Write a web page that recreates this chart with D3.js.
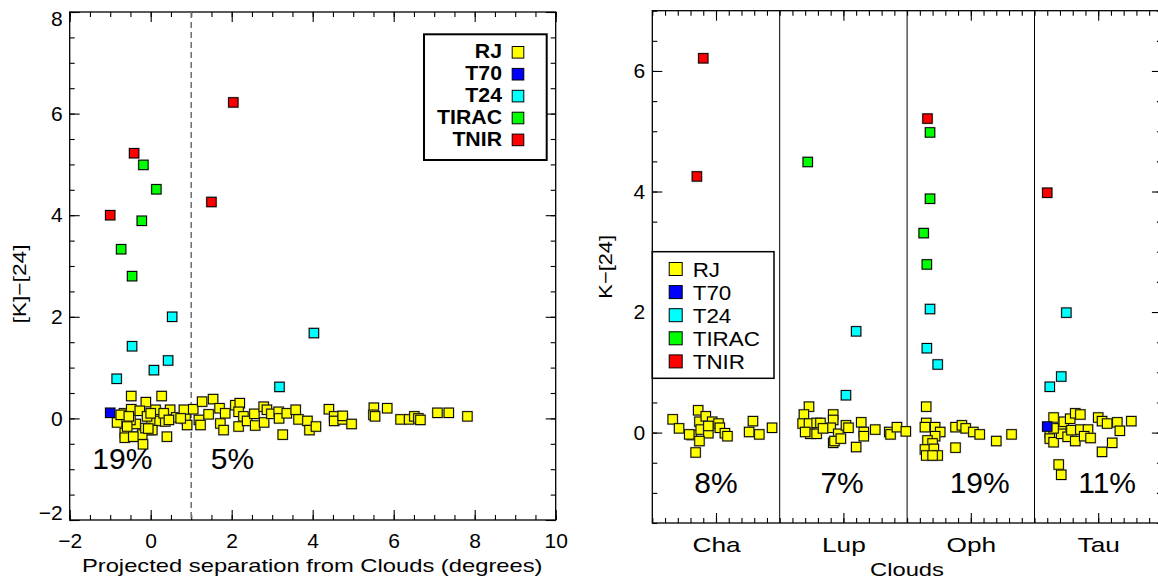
<!DOCTYPE html>
<html>
<head>
<meta charset="utf-8">
<script src="https://cdn.jsdelivr.net/npm/d3@7"></script>
<style>
body { margin: 0; background: #fff; }
text { font-family: "Liberation Sans", Arial, Helvetica, sans-serif; }
</style>
</head>
<body>
<div id="chart"></div>
<script>
// classes and colours
var classes = ["RJ", "T70", "T24", "TIRAC", "TNIR"];
var classColors = ["#ffff00", "#0000ff", "#00ffff", "#00ff00", "#ff0000"];

// left panel: [separation (deg), K-[24]]
var sepRJ = [[-0.48,0.44],[0.27,0.44],[-0.12,0.32],[-0.66,0.10],[-0.48,0.18],[-0.27,0.15],[-0.83,-0.08],
  [-0.37,-0.11],[-0.64,-0.29],[-0.42,-0.36],[-0.64,-0.38],[-0.19,-0.51],[-0.03,-0.23],[0.02,-0.07],
  [0.17,0.10],[0.22,-0.05],[0.36,-0.06],[0.40,-0.36],[0.48,0.17],[0.63,0.02],[0.82,0.17],[0.86,-0.01],
  [0.90,-0.13],[-0.74,0.07],[-0.50,-0.03],[-0.54,0.04],[-0.09,0.04],[0.12,0.17],[-0.58,-0.16],
  [-0.21,-0.32],[0.00,0.10],[0.32,0.10],[0.74,0.00],[0.04,-0.23],[0.45,-0.03],[-0.13,-0.19],
  [-0.06,-0.20],[-0.43,-0.36],
  [1.05,0.18],[1.27,0.33],[1.54,0.38],[1.19,-0.03],[1.43,0.08],[1.23,-0.13],[1.70,0.20],[1.72,-0.10],
  [1.80,-0.23],[1.84,0.10],[2.09,0.26],[2.20,0.30],[2.17,0.13],[2.29,0.04],[2.17,-0.16],[2.38,-0.05],
  [2.56,0.09],[2.58,-0.14],[2.79,0.23],[2.87,0.17],[2.80,-0.08],[2.98,0.09],[3.16,0.13],[3.17,0.00],
  [3.26,-0.32],[3.36,0.10],[3.58,0.17],[3.65,-0.02],[3.87,-0.05],[3.92,-0.23],[4.08,-0.16],[4.40,0.18],
  [4.53,0.04],[4.53,-0.05],[4.74,-0.02],[4.74,0.05],[4.96,-0.11],[5.51,0.21],[5.50,0.07],[5.54,0.04],
  [5.84,0.20],[6.17,-0.02],[6.38,-0.02],[6.51,0.04],[6.61,0.00],[6.66,-0.03],[7.08,0.11],[7.36,0.11],
  [7.82,0.04]];
var sepT70 = [[-1.00,0.11]];
var sepT24 = [[0.53,2.00],[-0.46,1.42],[0.43,1.14],[0.08,0.95],[-0.84,0.78],[3.18,0.62],[4.03,1.68]];
var sepTIRAC = [[-0.18,4.99],[0.14,4.51],[-0.22,3.89],[-0.73,3.33],[-0.46,2.80]];
var sepTNIR = [[2.04,6.22],[-0.41,5.22],[1.50,4.26],[-1.00,4.00]];
var sidePct = ["19%", "5%"];
var sidePctX = [-0.70, 2.02];

// right panel: [cloud position (cell units), K-[24]]
var clouds = ["Cha", "Lup", "Oph", "Tau"];
var cloudPct = ["8%", "7%", "19%", "11%"];
var cloudPctX = [0.50, 1.49, 2.57, 3.57];
var cloudRJ = [[0.16,0.22],[0.21,0.07],[0.36,0.37],[0.37,0.18],[0.42,0.27],[0.47,0.18],[0.52,0.15],
  [0.31,-0.04],[0.38,0.05],[0.44,-0.01],[0.37,-0.14],[0.34,-0.33],[0.44,0.11],[0.53,0.08],[0.57,-0.01],
  [0.59,-0.06],[0.76,0.01],[0.79,0.19],[0.84,-0.03],[0.94,0.08],[0.29,-0.03],
  [1.23,0.43],[1.19,0.30],[1.18,0.15],[1.23,0.15],[1.29,0.16],[1.32,0.16],[1.24,-0.02],[1.29,-0.02],
  [1.20,0.01],[1.42,0.30],[1.42,0.21],[1.40,0.08],[1.46,-0.02],[1.42,-0.17],[1.43,-0.14],[1.48,-0.10],
  [1.52,0.12],[1.54,0.08],[1.60,-0.24],[1.64,0.17],[1.66,0.01],[1.66,-0.06],[1.75,0.05],[1.86,0.01],
  [1.87,-0.03],[1.92,0.09],[1.99,0.02],[1.34,0.07],
  [2.15,0.43],[2.15,0.16],[2.14,0.09],[2.22,0.09],[2.26,0.01],[2.22,-0.06],[2.16,-0.13],[2.20,-0.18],
  [2.14,-0.28],[2.15,-0.38],[2.21,-0.27],[2.24,-0.38],[2.20,-0.38],[2.38,0.09],[2.43,0.12],[2.46,0.07],
  [2.52,0.01],[2.57,-0.03],[2.38,-0.25],[2.70,-0.14],[2.82,-0.03],
  [3.15,0.25],[3.12,-0.01],[3.12,-0.10],[3.15,-0.16],[3.21,0.07],[3.21,-0.02],[3.23,0.18],[3.26,-0.07],
  [3.28,0.23],[3.32,0.32],[3.36,0.30],[3.29,0.04],[3.36,0.05],[3.32,-0.14],[3.42,0.05],[3.39,-0.06],
  [3.44,-0.09],[3.50,0.25],[3.53,0.19],[3.57,0.15],[3.65,0.17],[3.67,0.03],[3.61,-0.17],[3.53,-0.32],
  [3.76,0.19],[3.19,-0.53],[3.21,-0.70],[3.15,0.07]];
var cloudT70 = [[3.10,0.10]];
var cloudT24 = [[1.60,1.68],[1.52,0.62],[2.18,2.05],[2.155,1.40],[2.24,1.13],[3.25,1.99],[3.21,0.93],[3.12,0.76]];
var cloudTIRAC = [[1.22,4.49],[2.18,4.98],[2.18,3.88],[2.13,3.31],[2.155,2.79]];
var cloudTNIR = [[0.40,6.21],[0.35,4.25],[2.16,5.21],[3.10,3.98]];

// ticks
var leftXTicks = [-2, 0, 2, 4, 6, 8, 10];
var leftYTicks = [-2, 0, 2, 4, 6, 8];
var rightYTicks = [0, 2, 4, 6];
var cloudTicks = [0.5, 1.5, 2.5, 3.5];

var width = 1158, height = 583;
var svg = d3.select("#chart").append("svg")
  .attr("width", width).attr("height", height);

var xL = d3.scaleLinear().domain([-2, 10]).range([69.7, 555.7]);
var yL = d3.scaleLinear().domain([-2, 8]).range([520, 12]);
var xR = d3.scaleLinear().domain([0, 4]).range([652.3, 1161.9]);
var yR = d3.scaleLinear().domain([-1.5, 7]).range([523, 10.7]);

function styleAxis(g, fs) {
  g.select(".domain").remove();
  g.selectAll(".tick line").attr("stroke", "#000").attr("stroke-width", 1.1);
  g.selectAll("text").attr("fill", "#000").style("font-size", fs + "px")
    .style("font-family", "'Liberation Sans', Arial, sans-serif");
}

// box axes, ticks pointing inward on all four sides
function frameAxes(x, y, xMajor, xMinor, yMajor, yMinor, xFmt, yFmt, xPad) {
  var xr = x.range(), yr = y.range();
  var sets = [
    [d3.axisBottom(x), yr[0]], [d3.axisTop(x), yr[1]]
  ];
  sets.forEach(function(s) {
    svg.append("g").attr("transform", "translate(0," + s[1] + ")")
      .call(s[0].tickValues(xMinor).tickSize(-5).tickFormat(""))
      .call(styleAxis, 21);
  });
  var xAx = svg.append("g").attr("transform", "translate(0," + yr[0] + ")")
    .call(d3.axisBottom(x).tickValues(xMajor).tickSize(-10).tickPadding(xPad).tickFormat(xFmt))
    .call(styleAxis, 21);
  svg.append("g").attr("transform", "translate(0," + yr[1] + ")")
    .call(d3.axisTop(x).tickValues(xMajor).tickSize(-10).tickFormat(""))
    .call(styleAxis, 21);

  svg.append("g").attr("transform", "translate(" + xr[0] + ",0)")
    .call(d3.axisLeft(y).tickValues(yMinor).tickSize(-5).tickFormat(""))
    .call(styleAxis, 21);
  var yAx = svg.append("g").attr("transform", "translate(" + xr[0] + ",0)")
    .call(d3.axisLeft(y).tickValues(yMajor).tickSize(-10).tickPadding(7).tickFormat(yFmt))
    .call(styleAxis, 21);
  svg.append("g").attr("transform", "translate(" + xr[1] + ",0)")
    .call(d3.axisRight(y).tickValues(yMinor).tickSize(-5).tickFormat(""))
    .call(styleAxis, 21);
  svg.append("g").attr("transform", "translate(" + xr[1] + ",0)")
    .call(d3.axisRight(y).tickValues(yMajor).tickSize(-10).tickFormat(""))
    .call(styleAxis, 21);

  svg.append("rect")
    .attr("x", xr[0]).attr("y", yr[1])
    .attr("width", xr[1] - xr[0]).attr("height", yr[0] - yr[1])
    .attr("fill", "none").attr("stroke", "#000").attr("stroke-width", 1.3);
  return {x: xAx, y: yAx};
}

function drawPoints(pts, color, x, y) {
  var g = svg.append("g");
  pts.forEach(function(p) {
    var cx = x(p[0]), cy = y(p[1]);
    g.append("rect").attr("x", cx - 5.7).attr("y", cy - 5.7).attr("width", 11.4).attr("height", 11.4)
      .attr("fill", "#7a7a7a").attr("fill-opacity", 0.5);
    g.append("rect").attr("x", cx - 4.7).attr("y", cy - 4.7).attr("width", 9.4).attr("height", 9.4)
      .attr("fill", color).attr("stroke", "#000").attr("stroke-width", 1);
  });
}

// ---------- left panel ----------
var fmt = d3.format("");
var axL = frameAxes(xL, yL, leftXTicks, d3.range(-2, 10.01, 0.5), leftYTicks, d3.range(-2, 8.01, 0.5),
  function(d) { return fmt(d); }, function(d) { return fmt(d); }, 13);
axL.y.selectAll(".tick text").filter(function(d) { return d === 8; }).attr("y", 6.5);
axL.y.selectAll(".tick text").filter(function(d) { return d === -2; }).attr("y", -7);

svg.append("line")
  .attr("x1", xL(1)).attr("x2", xL(1)).attr("y1", yL(8)).attr("y2", yL(-2))
  .attr("stroke", "#6e6e6e").attr("stroke-width", 1.5).attr("stroke-dasharray", "6,4");

[sepRJ, sepT70, sepT24, sepTIRAC, sepTNIR].forEach(function(s, i) {
  drawPoints(s, classColors[i], xL, yL);
});

sidePct.forEach(function(t, i) {
  svg.append("text").attr("x", xL(sidePctX[i])).attr("y", yL(-1.0))
    .attr("text-anchor", "middle").style("font-size", "30px").text(t);
});

// legend (left)
svg.append("rect").attr("x", 424).attr("y", 34.3).attr("width", 122.7).attr("height", 125.7)
  .attr("fill", "#fff").attr("stroke", "#000").attr("stroke-width", 2);
classes.forEach(function(c, i) {
  var cy = 52.3 + i * 21.9;
  svg.append("text").attr("transform", "translate(502," + (cy + 5.8) + ") scale(1.12,1.05)")
    .attr("text-anchor", "end")
    .style("font-size", "19px").style("font-weight", "bold").text(c);
  svg.append("rect").attr("x", 512.2).attr("y", cy - 5.8).attr("width", 11.6).attr("height", 11.6)
    .attr("fill", classColors[i]).attr("stroke", "#000").attr("stroke-width", 1);
});

svg.append("text")
  .attr("transform", "translate(312.2,571.7) scale(1.25,1)")
  .attr("text-anchor", "middle").style("font-size", "19px")
  .text("Projected separation from Clouds (degrees)");
svg.append("text")
  .attr("transform", "translate(26,284) rotate(-90) scale(1.2,1)")
  .attr("text-anchor", "middle").style("font-size", "19px")
  .text("[K]\u2212[24]");

// ---------- right panel ----------
var axR = frameAxes(xR, yR, cloudTicks, d3.range(0, 4.001, 0.1), rightYTicks, d3.range(-1.5, 7.01, 0.5),
  function(d, i) { return clouds[i]; }, function(d) { return fmt(d); }, 14);
axR.x.selectAll(".tick text").attr("transform", "scale(1.25,1)");

[1, 2, 3].forEach(function(v) {
  svg.append("line").attr("x1", xR(v)).attr("x2", xR(v)).attr("y1", yR(7)).attr("y2", yR(-1.5))
    .attr("stroke", "#000").attr("stroke-width", 1);
});

[cloudRJ, cloudT70, cloudT24, cloudTIRAC, cloudTNIR].forEach(function(s, i) {
  drawPoints(s, classColors[i], xR, yR);
});

cloudPct.forEach(function(t, i) {
  svg.append("text").attr("x", xR(cloudPctX[i])).attr("y", yR(-1.0))
    .attr("text-anchor", "middle").style("font-size", "30px").text(t);
});

// legend (right)
svg.append("rect").attr("x", 652.3).attr("y", 251.7).attr("width", 121.7).attr("height", 126.6)
  .attr("fill", "#fff").attr("stroke", "#000").attr("stroke-width", 1.5);
classes.forEach(function(c, i) {
  var cy = 269 + i * 23.1;
  svg.append("rect").attr("x", 669.2).attr("y", cy - 6.5).attr("width", 13).attr("height", 13)
    .attr("fill", classColors[i]).attr("stroke", "#000").attr("stroke-width", 1);
  svg.append("text").attr("transform", "translate(692.7," + (cy + 7.6) + ") scale(1.12,1.05)")
    .style("font-size", "20px").text(c);
});

svg.append("text")
  .attr("transform", "translate(907,576) scale(1.25,1)")
  .attr("text-anchor", "middle").style("font-size", "19px")
  .text("Clouds");
svg.append("text")
  .attr("transform", "translate(611.7,266.8) rotate(-90) scale(1.15,1)")
  .attr("text-anchor", "middle").style("font-size", "19px")
  .text("K\u2212[24]");
</script>
</body>
</html>
